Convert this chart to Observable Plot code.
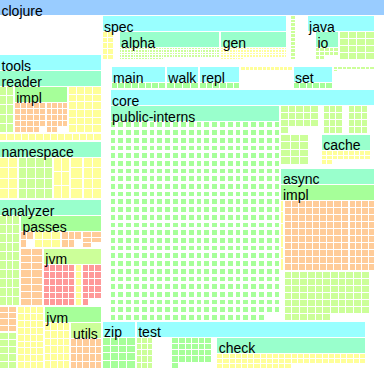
<!DOCTYPE html>
<html><head><meta charset="utf-8">
<script src="https://cdn.jsdelivr.net/npm/d3@7"></script>
<script src="https://cdn.jsdelivr.net/npm/@observablehq/plot@0.6"></script>
<style>body{margin:0;background:#fff}</style>
</head><body><div id="chart"></div>
<script>
// Treemap nodes: [path, relative weight among siblings, number of leaf cells (0 = empty space, undefined = container), cell level]
// Names starting with "_" are unlabeled groups / blocks.
const nodes = [
  ["clojure", 1],
  ["clojure/_L", 102],
  ["clojure/_L/_top", 39, 0],
  ["clojure/_L/tools", 313],
  ["clojure/_L/tools/reader", 70],
  ["clojure/_L/tools/reader/_m", 46],
  ["clojure/_L/tools/reader/_m/_a", 14, 10, 4],
  ["clojure/_L/tools/reader/_m/impl", 52],
  ["clojure/_L/tools/reader/_m/impl/_a", 30, 24, 6],
  ["clojure/_L/tools/reader/_m/impl/_b", 20, 18, 6],
  ["clojure/_L/tools/reader/_m/_b", 32, 24, 5],
  ["clojure/_L/tools/reader/_z", 8, 14, 5],
  ["clojure/_L/tools/namespace", 58],
  ["clojure/_L/tools/namespace/_a", 18, 8, 5],
  ["clojure/_L/tools/namespace/_b", 34, 16, 4],
  ["clojure/_L/tools/namespace/_c", 16, 6, 5],
  ["clojure/_L/tools/namespace/_d", 12, 4, 5],
  ["clojure/_L/tools/namespace/_e", 18, 8, 5],
  ["clojure/_L/tools/analyzer", 168],
  ["clojure/_L/tools/analyzer/_t", 90],
  ["clojure/_L/tools/analyzer/_t/_a", 20, 30, 4],
  ["clojure/_L/tools/analyzer/_t/passes", 78],
  ["clojure/_L/tools/analyzer/_t/passes/_r", 16],
  ["clojure/_L/tools/analyzer/_t/passes/_r/_a", 13, 3, 6],
  ["clojure/_L/tools/analyzer/_t/passes/_r/_b", 25, 6, 5],
  ["clojure/_L/tools/analyzer/_t/passes/_r/_c", 20, 5, 6],
  ["clojure/_L/tools/analyzer/_t/passes/_r/_d", 18, 5, 6],
  ["clojure/_L/tools/analyzer/_t/passes/_l", 57],
  ["clojure/_L/tools/analyzer/_t/passes/_l/_a", 21, 16, 6],
  ["clojure/_L/tools/analyzer/_t/passes/_l/jvm", 54],
  ["clojure/_L/tools/analyzer/_t/passes/_l/jvm/_a", 55, 30, 7],
  ["clojure/_L/tools/analyzer/_t/passes/_l/jvm/_b", 12, 6, 5],
  ["clojure/_L/tools/analyzer/_t/passes/_l/jvm/_c", 33, 16, 7],
  ["clojure/_L/tools/analyzer/_b", 62],
  ["clojure/_L/tools/analyzer/_b/_a", 17],
  ["clojure/_L/tools/analyzer/_b/_a/_o", 25, 8, 6],
  ["clojure/_L/tools/analyzer/_b/_a/_y", 37, 10, 4],
  ["clojure/_L/tools/analyzer/_b/_b", 25, 36, 5],
  ["clojure/_L/tools/analyzer/_b/jvm", 54],
  ["clojure/_L/tools/analyzer/_b/jvm/_a", 24, 24, 5],
  ["clojure/_L/tools/analyzer/_b/jvm/utils", 28],
  ["clojure/_L/tools/analyzer/_b/jvm/utils/_a", 1, 20, 6],
  ["clojure/_R", 282],
  ["clojure/_R/_1", 45],
  ["clojure/_R/_1/spec", 185],
  ["clojure/_R/_1/spec/_a", 12, 10, 5],
  ["clojure/_R/_1/spec/_s", 5, 0],
  ["clojure/_R/_1/spec/alpha", 101],
  ["clojure/_R/_1/spec/alpha/_a", 1, 160, 4],
  ["clojure/_R/_1/spec/gen", 67],
  ["clojure/_R/_1/spec/gen/_a", 1, 100, 5],
  ["clojure/_R/_1/_g", 19],
  ["clojure/_R/_1/_g/_s", 2, 0],
  ["clojure/_R/_1/_g/_a", 6, 12, 4],
  ["clojure/_R/_1/_g/_t", 11, 0],
  ["clojure/_R/_1/java", 68],
  ["clojure/_R/_1/java/_s", 8, 0],
  ["clojure/_R/_1/java/io", 23],
  ["clojure/_R/_1/java/io/_a", 1, 12, 4],
  ["clojure/_R/_1/java/_a", 35, 16, 4],
  ["clojure/_R/_1/_e", 10, 0],
  ["clojure/_R/_gap", 6, 0],
  ["clojure/_R/_2", 23],
  ["clojure/_R/_2/_s", 9, 0],
  ["clojure/_R/_2/main", 55],
  ["clojure/_R/_2/main/_a", 1, 8, 3],
  ["clojure/_R/_2/walk", 33],
  ["clojure/_R/_2/walk/_a", 1, 4, 3],
  ["clojure/_R/_2/repl", 41],
  ["clojure/_R/_2/repl/_a", 1, 6, 3],
  ["clojure/_R/_2/_b", 52],
  ["clojure/_R/_2/_b/_a", 5, 12, 5],
  ["clojure/_R/_2/_b/_s", 18, 0],
  ["clojure/_R/_2/set", 40],
  ["clojure/_R/_2/set/_a", 1, 6, 3],
  ["clojure/_R/_2/_c", 42],
  ["clojure/_R/_2/_c/_a", 6, 10, 4],
  ["clojure/_R/_2/_c/_s", 17, 0],
  ["clojure/_R/_2/_e", 10, 0],
  ["clojure/_R/_3", 230],
  ["clojure/_R/_3/_s", 8, 0],
  ["clojure/_R/_3/core", 264],
  ["clojure/_R/_3/core/public-interns", 170],
  ["clojure/_R/_3/core/public-interns/_a", 1, 570, 3],
  ["clojure/_R/_3/core/_r", 94],
  ["clojure/_R/_3/core/_r/_1", 28],
  ["clojure/_R/_3/core/_r/_1/_a", 38, 16, 4],
  ["clojure/_R/_3/core/_r/_1/_s", 4, 0],
  ["clojure/_R/_3/core/_r/_1/_b", 20, 12, 4],
  ["clojure/_R/_3/core/_r/_1/_t", 5, 0],
  ["clojure/_R/_3/core/_r/_1/_c", 20, 12, 4],
  ["clojure/_R/_3/core/_r/_1/_u", 7, 0],
  ["clojure/_R/_3/core/_r/_2", 30],
  ["clojure/_R/_3/core/_r/_2/_a", 28, 12, 4],
  ["clojure/_R/_3/core/_r/_2/_s", 12, 0],
  ["clojure/_R/_3/core/_r/_2/cache", 50],
  ["clojure/_R/_3/core/_r/_2/cache/_a", 1, 20, 5],
  ["clojure/_R/_3/core/_r/_2/_t", 4, 0],
  ["clojure/_R/_3/core/_r/_g", 3, 0],
  ["clojure/_R/_3/core/_r/async", 150],
  ["clojure/_R/_3/core/_r/async/impl", 85],
  ["clojure/_R/_3/core/_r/async/impl/_t", 3, 6, 5],
  ["clojure/_R/_3/core/_r/async/impl/_a", 62, 90, 6],
  ["clojure/_R/_3/core/_r/async/impl/_b", 25, 40, 6],
  ["clojure/_R/_3/core/_r/async/_c", 48],
  ["clojure/_R/_3/core/_r/async/_c/_s", 3, 0],
  ["clojure/_R/_3/core/_r/async/_c/_a", 82, 72, 4],
  ["clojure/_R/_3/core/_r/async/_c/_t", 5, 0],
  ["clojure/_R/_3/_e", 10, 0],
  ["clojure/_R/_4", 48],
  ["clojure/_R/_4/zip", 34],
  ["clojure/_R/_4/zip/_a", 1, 16, 3],
  ["clojure/_R/_4/test", 229],
  ["clojure/_R/_4/test/_a", 17, 15, 4],
  ["clojure/_R/_4/test/_s", 18, 0],
  ["clojure/_R/_4/test/_b", 40, 25, 3],
  ["clojure/_R/_4/test/_t", 4, 0],
  ["clojure/_R/_4/test/check", 147],
  ["clojure/_R/_4/test/check/_a", 1, 60, 5],
  ["clojure/_R/_4/_e", 19, 0]
];

// Depth colour levels (blue → red)
const levelColors = ["#99ccff", "#99ffff", "#99ffcc", "#a6ff99", "#ccff99", "#ffff99", "#ffcc99", "#ff9999"];

// Tiling direction of containers (cell blocks use a grid, others squarified)
const dicePaths = [
  "clojure", "clojure/_L/tools/reader/_m", "clojure/_L/tools/reader/_m/impl", "clojure/_L/tools/namespace",
  "clojure/_L/tools/analyzer/_t", "clojure/_L/tools/analyzer/_t/passes/_r", "clojure/_L/tools/analyzer/_t/passes/_l",
  "clojure/_L/tools/analyzer/_b", "clojure/_L/tools/analyzer/_b/jvm",
  "clojure/_R/_1", "clojure/_R/_1/spec", "clojure/_R/_1/_g", "clojure/_R/_1/java", "clojure/_R/_2",
  "clojure/_R/_3", "clojure/_R/_3/core", "clojure/_R/_3/core/_r/_1", "clojure/_R/_3/core/_r/_2",
  "clojure/_R/_3/core/_r/async/impl", "clojure/_R/_3/core/_r/async/_c", "clojure/_R/_4", "clojure/_R/_4/test"
];
const slicePaths = [
  "clojure/_L", "clojure/_L/tools", "clojure/_L/tools/reader", "clojure/_L/tools/analyzer",
  "clojure/_L/tools/analyzer/_t/passes", "clojure/_L/tools/analyzer/_b/_a",
  "clojure/_R", "clojure/_R/_3/core/_r", "clojure/_R/_3/core/_r/async", "clojure/_R/_2/_b", "clojure/_R/_2/_c"
];

const W = 384, H = 368;

// Build flat table
const table = [];
for (const [path, w, n, level] of nodes) {
  const cut = path.lastIndexOf("/");
  const name = path.slice(cut + 1);
  table.push({id: path, parent: cut < 0 ? null : path.slice(0, cut), name, w, level,
              labeled: !name.startsWith("_")});
  if (n > 0) for (let k = 0; k < n; k++)
    table.push({id: path + "/#" + k, parent: path, name: "", w: 1, level, cell: true, labeled: false});
}
const root = d3.stratify().id(d => d.id).parentId(d => d.parent)(table);

const tileOf = new Map();
dicePaths.forEach(p => tileOf.set(p, d3.treemapDice));
slicePaths.forEach(p => tileOf.set(p, d3.treemapSlice));
const isBlock = n => n.children && n.children[0].data.cell;

// equal cells laid out in a near-square grid
function gridTile(node, x0, y0, x1, y1) {
  const n = node.children.length, dx = Math.max(x1 - x0, 0.01), dy = Math.max(y1 - y0, 0.01);
  const cols = Math.max(1, Math.min(n, Math.round(Math.sqrt(n * dx / dy))));
  const rows = Math.ceil(n / cols);
  const cw = dx / cols, ch = dy / rows;
  node.children.forEach((c, i) => {
    const col = i % cols, row = Math.floor(i / cols);
    c.x0 = x0 + col * cw; c.x1 = c.x0 + cw;
    c.y0 = y0 + row * ch; c.y1 = c.y0 + ch;
  });
}
function tile(node, x0, y0, x1, y1) {
  for (const c of node.children) c.value = c.data.w;
  node.value = d3.sum(node.children, c => c.value);
  if (isBlock(node)) return gridTile(node, x0, y0, x1, y1);
  (tileOf.get(node.id) || d3.treemapSquarify)(node, x0, y0, x1, y1);
}

d3.treemap().size([W, H]).tile(tile).round(false)
  .paddingInner(n => n.id === "clojure/_R/_3/core/public-interns/_a" ? 3 : isBlock(n) ? 1 : 2)
  .paddingTop(n => n.data.labeled ? 16 : 0)(root);

const cells = root.leaves().filter(d => d.data.cell)
  .map(d => ({x0: d.x0, x1: d.x1, y0: d.y0, y1: d.y1, level: d.data.level}));
const heads = root.descendants().filter(d => d.data.labeled).map(d => ({
  x0: d.x0, x1: d.x1, y0: d.y0, hy: Math.min(d.y0 + 15, d.y1), name: d.data.name,
  level: d.ancestors().filter(a => a.data.labeled).length - 1
}));

const chart = Plot.plot({
  width: W, height: H, margin: 0,
  style: {fontFamily: "'Liberation Sans', Arial, Helvetica, sans-serif", background: "#fff"},
  x: {domain: [0, W], range: [0, W], axis: null},
  y: {domain: [0, H], range: [0, H], axis: null},
  color: {type: "ordinal", domain: d3.range(levelColors.length), range: levelColors},
  marks: [
    Plot.rect(cells, {x1: "x0", x2: "x1", y1: "y0", y2: "y1", fill: "level", shapeRendering: "crispEdges"}),
    Plot.rect(heads, {x1: "x0", x2: "x1", y1: "y0", y2: "hy", fill: "level", shapeRendering: "crispEdges"}),
    Plot.text(heads, {x: "x0", y: "y0", dx: 1, dy: 15, text: "name", textAnchor: "start", lineAnchor: "bottom",
                      fontSize: 14, fill: "black"})
  ]
});
document.getElementById("chart").append(chart);
</script>
</body></html>
